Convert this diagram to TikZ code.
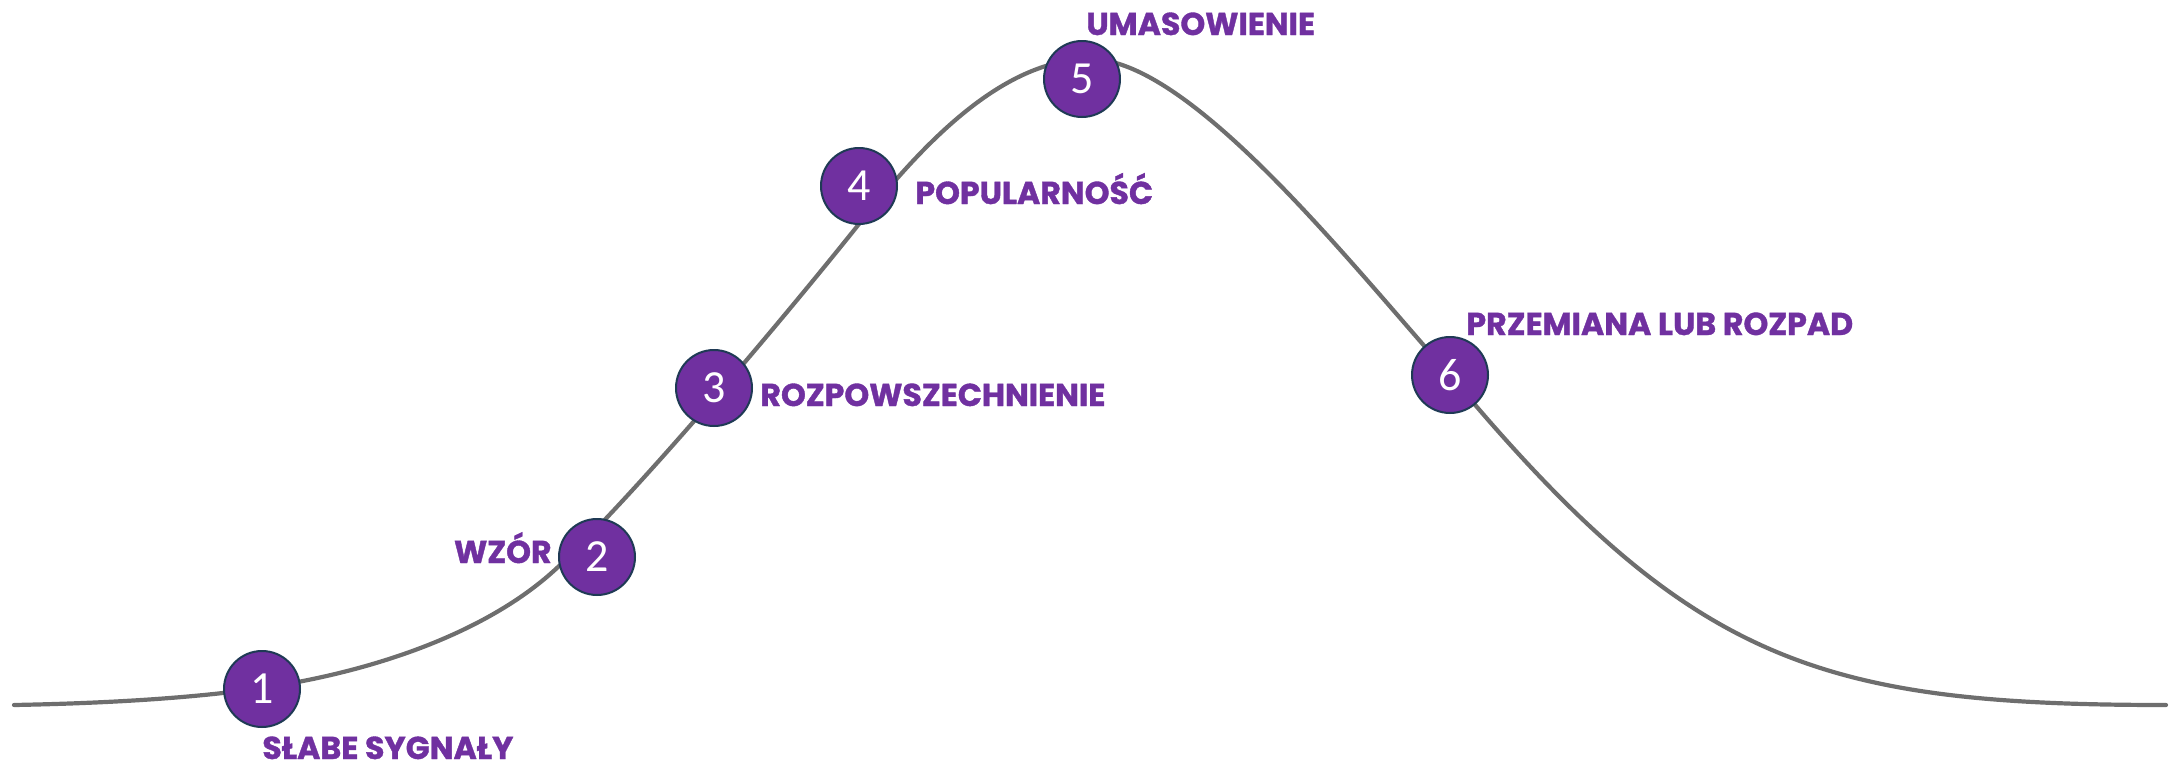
\documentclass[tikz,border=0pt]{standalone}
\usepackage{fontspec}
\usepackage{xcolor}
\usepackage{tikz}
\newfontfamily\labelfont{Poppins}[UprightFont=* Bold, FakeBold=1.2]
\newfontfamily\numfont{Carlito}
\definecolor{stagepurple}{HTML}{7030A0}
\definecolor{stageborder}{HTML}{1F3A55}
\definecolor{curvegray}{HTML}{6E6E6E}

\begin{document}
\begin{tikzpicture}[x=0.5pt,y=-0.5pt,
  stage/.style={circle, fill=stagepurple, draw=stageborder, line width=1pt,
    minimum size=38pt, inner sep=0pt, text=white, font=\numfont\fontsize{23}{23}\selectfont},
  stagelabel/.style={inner sep=0pt, text=stagepurple, font=\labelfont\fontsize{15.8}{15.8}\selectfont}]
\useasboundingbox (0,0) rectangle (2181,766);
% Curve
\draw[curvegray, line width=2.1pt, line cap=round]
  (14,705) .. controls (120,703) and (200,697) .. (262,688)
  .. controls (372,672) and (488,633) .. (558,567)
  .. controls (638,491) and (779,324) .. (859,224)
  .. controls (919,149) and (1000,59) .. (1090,59)
  .. controls (1190,59) and (1349,262) .. (1449,374)
  .. controls (1689,662) and (1816,705) .. (2166,705);
% Stages
\node[stage] (s1) at (262,689) {1};
\node[stage] (s2) at (597,557) {2};
\node[stage] (s3) at (714,388) {3};
\node[stage] (s4) at (859,186) {4};
\node[stage] (s5) at (1082,79) {5};
\node[stage] (s6) at (1450,375) {6};
% Labels
\node[stagelabel, anchor=base west] (l1) at (262,759) {SŁABE SYGNAŁY};
\node[stagelabel, anchor=base east] (l2) at (552,563) {WZÓR};
\node[stagelabel, anchor=base west] (l3) at (760,406) {ROZPOWSZECHNIENIE};
\node[stagelabel, anchor=base west] (l4) at (915,204) {POPULARNOŚĆ};
\node[stagelabel, anchor=base west] (l5) at (1086,35) {UMASOWIENIE};
\node[stagelabel, anchor=base west] (l6) at (1466,335) {PRZEMIANA LUB ROZPAD};
\end{tikzpicture}
\end{document}
